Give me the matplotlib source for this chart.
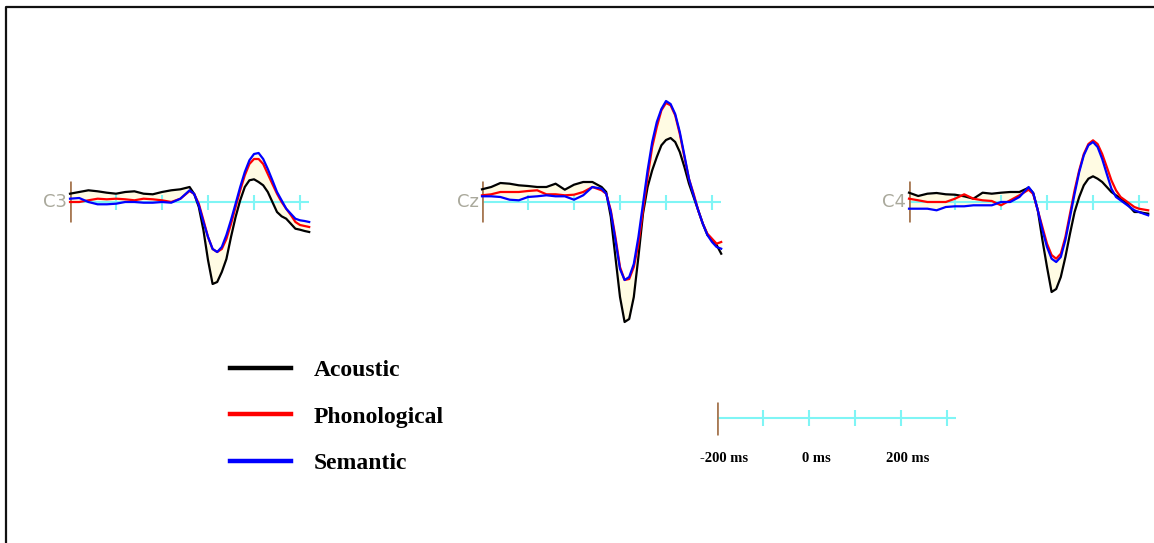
import numpy as np
import matplotlib
matplotlib.use("Agg")
import matplotlib.pyplot as plt
from matplotlib.lines import Line2D

# time (ms) relative to stimulus onset
times = [-200, -180, -160, -140, -120, -100, -80, -60, -40, -20, 0, 20, 40, 60, 70,
         80, 90, 100, 110, 120, 130, 140, 150, 160, 170, 180, 190, 200, 210, 220,
         230, 240, 250, 260, 270, 280, 290, 300, 310, 320]

electrodes = ["C3", "Cz", "C4"]
conditions = ["Acoustic", "Phonological", "Semantic"]

# amplitudes (uV), one list per condition and electrode
c3_acoustic = [0.83, 1.0, 1.17, 1.07, 0.93, 0.83, 1.0, 1.07, 0.83, 0.77, 1.0, 1.17, 1.27, 1.5, 0.8,
               -0.5, -2.8, -5.8, -8.2, -8.0, -7.0, -5.7, -3.5, -1.5, 0.17, 1.5, 2.17, 2.27, 2.0, 1.67,
               1.0, 0.0, -1.0, -1.43, -1.67, -2.17, -2.67, -2.77, -2.9, -3.0]
c3_phonological = [0.0, 0.0, 0.17, 0.33, 0.27, 0.33, 0.27, 0.17, 0.33, 0.27, 0.17, 0.0, 0.33, 1.1, 0.8,
                   -0.17, -1.8, -3.5, -4.7, -5.0, -4.7, -3.7, -2.2, -0.5, 1.17, 2.67, 3.8, 4.3, 4.3, 3.8,
                   2.8, 1.8, 0.83, 0.0, -0.67, -1.3, -2.0, -2.3, -2.4, -2.5]
c3_semantic = [0.33, 0.4, 0.0, -0.23, -0.23, -0.17, 0.0, 0.0, -0.07, -0.07, 0.0, -0.07, 0.33, 1.17, 0.8,
               -0.33, -2.0, -3.5, -4.7, -5.0, -4.5, -3.3, -1.8, -0.17, 1.5, 3.0, 4.17, 4.8, 4.9, 4.3,
               3.3, 2.17, 1.0, 0.17, -0.67, -1.17, -1.67, -1.83, -1.9, -2.0]

cz_acoustic = [1.27, 1.5, 1.9, 1.83, 1.67, 1.6, 1.5, 1.5, 1.83, 1.23, 1.73, 2.0, 2.0, 1.5, 1.0,
               -1.5, -5.5, -9.5, -12.0, -11.7, -9.5, -5.5, -1.17, 1.5, 3.17, 4.5, 5.67, 6.2, 6.4, 6.0,
               5.0, 3.5, 1.83, 0.5, -0.83, -2.17, -3.3, -3.8, -4.3, -5.17]
cz_phonological = [0.67, 0.77, 1.0, 1.0, 1.0, 1.1, 1.17, 0.77, 0.77, 0.67, 0.73, 1.0, 1.5, 1.17, 0.83,
                   -0.83, -3.5, -6.5, -7.8, -7.7, -6.5, -4.2, -0.83, 2.5, 5.5, 7.5, 9.17, 9.9, 9.67, 8.67,
                   6.8, 4.5, 2.3, 0.83, -0.83, -2.17, -3.17, -3.67, -4.17, -4.0]
cz_semantic = [0.57, 0.57, 0.5, 0.23, 0.17, 0.5, 0.57, 0.67, 0.57, 0.57, 0.23, 0.67, 1.5, 1.33, 0.83,
               -1.0, -3.8, -6.7, -7.8, -7.5, -6.2, -3.5, -0.17, 3.17, 6.0, 8.0, 9.3, 10.1, 9.8, 8.8,
               7.0, 4.67, 2.3, 0.67, -0.83, -2.17, -3.3, -4.0, -4.5, -4.67]

c4_acoustic = [0.93, 0.6, 0.83, 0.9, 0.77, 0.73, 0.57, 0.33, 0.93, 0.83, 0.93, 1.0, 1.0, 1.43, 0.9,
               -0.83, -3.8, -6.5, -9.0, -8.7, -7.5, -5.5, -3.17, -1.0, 0.5, 1.67, 2.33, 2.57, 2.33, 2.0,
               1.5, 1.0, 0.67, 0.33, 0.0, -0.5, -1.0, -1.0, -1.1, -1.17]
c4_phonological = [0.33, 0.17, 0.0, 0.0, 0.0, 0.33, 0.77, 0.33, 0.17, 0.1, -0.33, 0.17, 0.67, 1.23, 0.8,
                   -0.83, -2.5, -4.17, -5.3, -5.67, -5.17, -3.5, -1.17, 1.17, 3.17, 4.8, 5.8, 6.17, 5.8, 4.8,
                   3.5, 2.17, 1.17, 0.5, 0.17, -0.17, -0.5, -0.67, -0.75, -0.83]
c4_semantic = [-0.67, -0.67, -0.67, -0.83, -0.5, -0.43, -0.43, -0.33, -0.33, -0.33, 0.0, 0.0, 0.5, 1.5, 0.9,
               -0.83, -2.8, -4.5, -5.67, -6.0, -5.5, -3.8, -1.5, 0.83, 3.0, 4.67, 5.67, 6.0, 5.5, 4.3,
               2.8, 1.33, 0.5, 0.17, -0.17, -0.5, -0.83, -1.0, -1.17, -1.33]

waves = {
    "C3": [c3_acoustic, c3_phonological, c3_semantic],
    "Cz": [cz_acoustic, cz_phonological, cz_semantic],
    "C4": [c4_acoustic, c4_phonological, c4_semantic],
}

axis_ticks = [-100, 0, 100, 200, 300]
scale_ticks = [-100, 0, 100, 200, 300]
scale_labels = [-200, 0, 200]

colors = ["black", "#ff0000", "#0000ff"]
cyan = "#7ff5f5"
brown = "#a87a55"
fill_col = "#fffbe3"

W, H = 1154, 543
fig = plt.figure(figsize=(W / 100, H / 100), dpi=100)

px_per_ms = 0.46
px_per_uv = 10
t0, t1 = -200, 320


def add_panel(x_px, base_px, ylo, yhi):
    width = (t1 - t0) * px_per_ms
    top = base_px - yhi * px_per_uv
    bot = base_px - ylo * px_per_uv
    ax = fig.add_axes([x_px / W, (H - bot) / H, width / W, (bot - top) / H])
    ax.set_xlim(t0, t1)
    ax.set_ylim(ylo, yhi)
    ax.axis("off")
    return ax


panel_x = [70, 482, 909]
for name, x0 in zip(electrodes, panel_x):
    ax = add_panel(x0, 202, -14, 12)
    data = np.array(waves[name])
    ax.fill_between(times, data.min(axis=0), data.max(axis=0), color=fill_col, lw=0, zorder=1)
    ax.axhline(0, color=cyan, lw=1.5, zorder=2)
    ax.vlines(axis_ticks, -0.75, 0.75, color=cyan, lw=1.5, zorder=2)
    ax.vlines([t0], -2.0, 2.1, color=brown, lw=2, zorder=3)
    order = [0, 2, 1]
    for i in order:
        ax.plot(times, data[i], color=colors[i], lw=1.6, zorder=4 + i, clip_on=False)
    ax.annotate(name, (t0, 0), xytext=(-2.5, 0), textcoords="offset points",
                ha="right", va="center", fontsize=13, color="#aaa99c",
                family="DejaVu Sans")

# time scale bar
sax = add_panel(717, 418, -3, 3)
sax.axhline(0, color=cyan, lw=1.5)
sax.vlines(scale_ticks, -0.8, 0.8, color=cyan, lw=1.5)
sax.vlines([t0], -1.65, 1.65, color=brown, lw=2)
for v in scale_labels:
    sax.annotate(f"{v} ms", (v, -4.1), xytext=(5, 0), textcoords="offset points",
                 ha="center", va="center", fontsize=10.5, fontweight="bold",
                 family="Liberation Serif", annotation_clip=False)

# legend
handles = [Line2D([], [], color=c, lw=3.2) for c in colors]
leg = fig.legend(handles, conditions, loc="center left",
                 bbox_to_anchor=(230 / W, (H - 417) / H),
                 frameon=False, borderpad=0, borderaxespad=0,
                 handlelength=2.6, handletextpad=0.95, labelspacing=1.06,
                 prop={"family": "Liberation Serif", "weight": "bold", "size": 17})

# outer frame (left and top edges)
fig.add_artist(Line2D([5.5 / W, 5.5 / W, 1.0], [0.0, 1 - 7 / H, 1 - 7 / H],
                      color="#111111", lw=1.6, transform=fig.transFigure))

plt.savefig("out.png", dpi=100)
